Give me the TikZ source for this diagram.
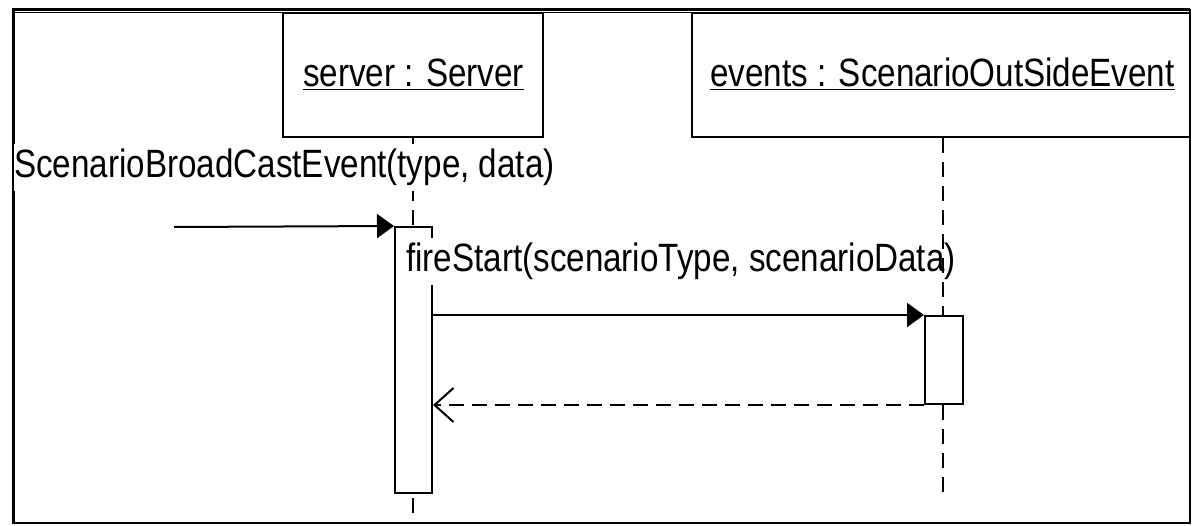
\documentclass[tikz,border=0pt]{standalone}
\usepackage{fontspec}
\usepackage{graphicx}
\setmainfont{Liberation Sans}
\usetikzlibrary{arrows.meta}
% labels are set in a tall, slightly condensed face
\newcommand{\condensed}[1]{\scalebox{0.84}[1]{#1}}
\begin{document}
\begin{tikzpicture}[x=1pt,y=-1pt,
  every node/.style={font=\fontsize{39.5}{46}\selectfont},
  objbox/.style={draw, line width=2pt, fill=white, rectangle, inner sep=0pt},
  actbox/.style={draw, line width=2pt, fill=white, rectangle, inner sep=0pt, minimum width=37pt},
  lifeline/.style={line width=1.6pt, dash pattern=on 15pt off 9pt},
  msg/.style={line width=2pt, -{Triangle[length=17pt,width=24pt]}},
  reply/.style={line width=2pt, dash pattern=on 15pt off 8pt, -{Straight Barb[length=19pt,width=34pt]}},
  lbl/.style={inner xsep=0pt, inner ysep=5pt, anchor=base west, fill=white}]
\useasboundingbox (0,0) rectangle (1198,526);

% diagram frame
\draw[line width=3pt] (13.5,523) -- (13.5,9.5) -- (1190,9.5);
\draw[line width=2pt] (1190,9.5) -- (1190,523);
\draw[line width=2.5pt] (12,523) -- (1191,523);
\draw[line width=1pt] (15,13) -- (1189,13);

% object heads
\node[objbox, minimum width=260pt, minimum height=124pt] (srv) at (413,75) {};
\node[objbox, minimum width=498pt, minimum height=124pt] (evt) at (941,75) {};
\node[inner sep=0pt, anchor=base] (srvname) at (413.5,87) {\condensed{\underline{server : Server}}};
\node[inner sep=0pt, anchor=base] (evtname) at (942.5,87) {\condensed{\underline{events : ScenarioOutSideEvent}}};

% lifelines
\coordinate (srvend) at (413,523);
\coordinate (evtend) at (943,495);
\draw[lifeline] (srv.south -| srvend) -- (srvend);

% activations
\node[actbox, minimum height=266pt] (sact) at (413.5,360) {};
\node[actbox, minimum width=38pt, minimum height=88pt] (eact) at (944,360) {};

% incoming message
\coordinate (caller) at (174,227);
\draw[msg] (caller) -- (sact.north west);
\node[lbl] (inlbl) at (14,178) {\condensed{ScenarioBroadCastEvent(type, data)}};

% call and reply
\draw[msg] (sact.east |- eact.north west) -- (eact.north west);
\draw[reply] (eact.south west) -- (sact.east |- eact.south west);
\node[lbl] (calllbl) at (406,272) {\condensed{fireStart(scenarioType, scenarioData)}};

\draw[lifeline] (evt.south -| evtend) -- (eact.north -| evtend);
\draw[lifeline] (eact.south -| evtend) -- (evtend);
\end{tikzpicture}
\end{document}
